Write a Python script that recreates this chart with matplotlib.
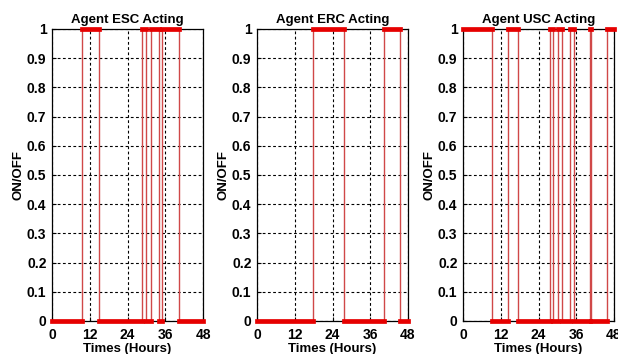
import matplotlib
matplotlib.use("Agg")
import matplotlib.pyplot as plt

plt.rcParams['font.family'] = ['Liberation Sans', 'DejaVu Sans']
plt.rcParams['font.weight'] = 'bold'

# Data: switching times (hours) and state held from each time
titles = ["Agent ESC Acting", "Agent ERC Acting", "Agent USC Acting"]
esc_times = [0, 9.5, 14.8, 28.7, 30.0, 31.4, 34.0, 35.0, 40.5, 48]
esc_states = [0, 1, 0, 1, 0, 1, 0, 1, 0, 0]
erc_times = [0, 17.9, 27.7, 40.5, 45.5, 48]
erc_states = [0, 1, 0, 1, 0, 0]
usc_times = [0, 9.2, 14.3, 17.6, 27.6, 28.7, 30.3, 31.6, 33.9, 35.2, 40.3, 40.6, 45.7, 48]
usc_states = [1, 0, 1, 0, 1, 0, 1, 0, 1, 0, 1, 0, 1, 1]
x_ticks = [0, 12, 24, 36, 48]
y_ticks = [0, 0.1, 0.2, 0.3, 0.4, 0.5, 0.6, 0.7, 0.8, 0.9, 1]
y_ticklabels = ["0", "0.1", "0.2", "0.3", "0.4", "0.5", "0.6", "0.7", "0.8", "0.9", "1"]

series = [(esc_times, esc_states), (erc_times, erc_states), (usc_times, usc_states)]

fig = plt.figure(figsize=(6.18, 3.54), dpi=100)
lefts = [52, 257, 463]
W, H = 618.0, 354.0
for i, (t, s) in enumerate(series):
    ax = fig.add_axes([lefts[i] / W, 1 - 321 / H, 151 / W, 292 / H])
    ax.step(t, s, where='post', color='#d04848', lw=1.0, clip_on=False, zorder=3)
    for k in range(len(t) - 1):
        if t[k + 1] > t[k]:
            ax.plot([t[k], t[k + 1]], [s[k], s[k]], color='#e60000', lw=3.4,
                    solid_capstyle='projecting', clip_on=False, zorder=4)
    ax.set_xlim(0, 48)
    ax.set_ylim(0, 1)
    ax.set_xticks(x_ticks)
    ax.set_yticks(y_ticks)
    ax.set_yticklabels(y_ticklabels)
    ax.grid(True, color='black', linestyle=(0, (2.5, 2.2)), lw=0.8)
    ax.tick_params(axis='x', direction='in', length=3, labelsize=10, pad=5, width=0.8)
    ax.tick_params(axis='y', direction='in', length=3, labelsize=10, pad=4, width=0.8)
    for lab in ax.get_xticklabels() + ax.get_yticklabels():
        lab.set_fontweight('bold')
    for sp in ax.spines.values():
        sp.set_color('black')
        sp.set_linewidth(0.9)
    ax.set_title(titles[i], fontsize=9.5, fontweight='bold', pad=4)
    ax.set_xlabel("Times (Hours)", fontsize=9.5, fontweight='bold', labelpad=1)
    ax.set_ylabel("ON/OFF", fontsize=9.5, fontweight='bold', labelpad=2)

fig.savefig("out.png", dpi=100)
